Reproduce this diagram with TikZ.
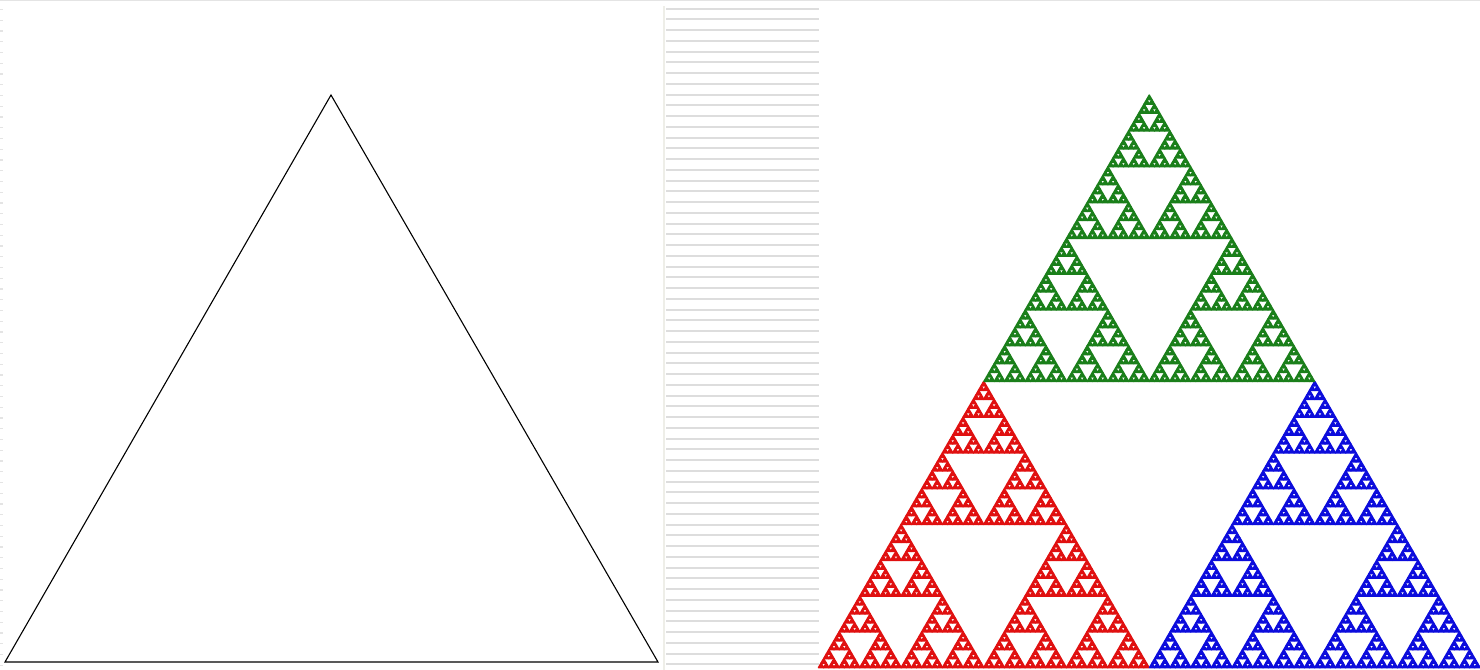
\documentclass[tikz,border=0pt]{standalone}
\usetikzlibrary{calc}
\definecolor{Stripe}{HTML}{DDDDDD}
\definecolor{Edge}{HTML}{EEEEE8}
\definecolor{SierGreen}{HTML}{1A7F1A}
\definecolor{SierRed}{HTML}{E01010}
\definecolor{SierBlue}{HTML}{0C0CDC}
\tikzset{
  outline/.style={draw=black,line width=0.55pt,line join=miter},
  stripe/.style={draw=Stripe,line width=1pt},
  tick/.style={draw=Stripe!80,line width=0.6pt},
  edgerule/.style={draw=Edge,line width=1.2pt},
  piece/.style={fill=#1,draw=#1,line width=0.75pt,line join=round}
}
% one Sierpinski piece: level, left x, bottom y, side (pixel units, y down)
\newcommand\sierp[4]{\ifnum#1>0 \sierpsplit{#1}{#2}{#3}{#4}\else
  \filldraw (#2,#3) -- ++(#4,0) -- ++({-#4/2},{-0.8660254*#4}) -- cycle;\fi}
\newcommand\sierpsplit[4]{\begingroup
  \pgfmathtruncatemacro\sLv{#1-1}\pgfmathsetmacro\sHs{#4/2}%
  \pgfmathsetmacro\sXm{#2+\sHs}\pgfmathsetmacro\sXq{#2+\sHs/2}%
  \pgfmathsetmacro\sYt{#3-0.8660254*\sHs}%
  \edef\sDo{\noexpand\sierp{\sLv}{#2}{#3}{\sHs}\noexpand\sierp{\sLv}{\sXm}{#3}{\sHs}\noexpand\sierp{\sLv}{\sXq}{\sYt}{\sHs}}%
  \sDo\endgroup}
\begin{document}
\begin{tikzpicture}[x=0.5pt,y=-0.5pt]
  \useasboundingbox (0,0) rectangle (1480,670);
  \fill[white] (0,0) rectangle (1480,670);

  % frame bits
  \draw[tick] (0,0.8)--(1480,0.8);
  \foreach \k in {0,...,61}{\draw[tick] (0,9.5+10.75*\k)--(3,9.5+10.75*\k);}

  % left panel: plain triangle
  \coordinate (bl) at (5,662); \coordinate (br) at (658,662); \coordinate (top) at (331,95);
  \draw[outline] (bl)--(br)--(top)--cycle;

  % middle strip
  \draw[edgerule] (664,6)--(664,670);
  \foreach \k in {0,...,61}{\draw[stripe] (666,8.5+10.75*\k)--(819,8.5+10.75*\k);}

  % right panel: Sierpinski triangle
  \begin{scope}[piece=SierRed]   \sierp{6}{818.5}{667.6}{330.5} \end{scope}
  \begin{scope}[piece=SierBlue]  \sierp{6}{1149.5}{667.6}{330.5} \end{scope}
  \begin{scope}[piece=SierGreen] \sierp{6}{984}{381.4}{330.5} \end{scope}
\end{tikzpicture}
\end{document}
